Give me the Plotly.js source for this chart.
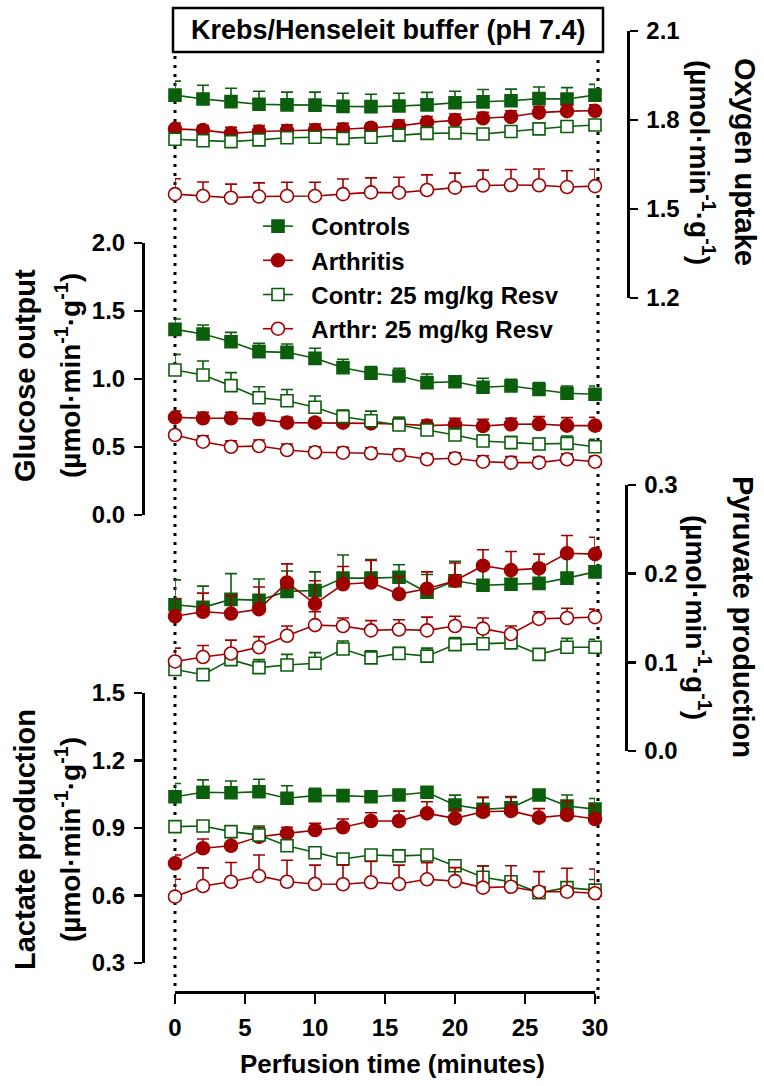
<!DOCTYPE html>
<html><head><meta charset="utf-8">
<script src="https://cdn.plot.ly/plotly-3.0.1.min.js"></script>
<style>html,body{margin:0;padding:0;background:#fff}#chart{width:764px;height:1086px}</style>
</head><body><div id="chart"></div>
<script>
// ---- data ----
const time = [0,2,4,6,8,10,12,14,16,18,20,22,24,26,28,30];
const seriesNames = ['Controls','Arthritis','Contr: 25 mg/kg Resv','Arthr: 25 mg/kg Resv'];

// Oxygen uptake (µmol·min-1·g-1)
const o2Ctrl     = [1.884,1.871,1.862,1.853,1.851,1.850,1.846,1.845,1.847,1.851,1.858,1.861,1.865,1.872,1.871,1.884];
const o2CtrlErr  = [0.047,0.046,0.045,0.044,0.043,0.044,0.044,0.042,0.043,0.042,0.039,0.042,0.039,0.039,0.038,0.036];
const o2Arth     = [1.770,1.766,1.755,1.761,1.764,1.766,1.769,1.774,1.780,1.792,1.800,1.806,1.811,1.825,1.830,1.831];
const o2ArthErr  = [0.020,0.015,0.020,0.020,0.020,0.020,0.020,0.015,0.020,0.020,0.020,0.020,0.020,0.020,0.020,0.020];
const o2CtrlR    = [1.735,1.730,1.727,1.733,1.740,1.742,1.738,1.742,1.749,1.755,1.756,1.753,1.761,1.770,1.778,1.783];
const o2CtrlRErr = [0.015,0.015,0.015,0.015,0.015,0.015,0.015,0.015,0.015,0.015,0.015,0.015,0.015,0.015,0.015,0.015];
const o2ArthR    = [1.550,1.544,1.538,1.542,1.544,1.544,1.550,1.556,1.555,1.564,1.572,1.579,1.581,1.580,1.574,1.577];
const o2ArthRErr = [0.052,0.047,0.046,0.046,0.046,0.046,0.051,0.049,0.052,0.051,0.049,0.052,0.052,0.055,0.055,0.057];

// Glucose output
const gluCtrl     = [1.365,1.331,1.274,1.201,1.196,1.152,1.083,1.042,1.022,0.973,0.980,0.939,0.949,0.924,0.895,0.888];
const gluCtrlErr  = [0.076,0.066,0.069,0.061,0.061,0.074,0.061,0.049,0.056,0.064,0.037,0.066,0.049,0.049,0.054,0.061];
const gluArth     = [0.718,0.711,0.711,0.704,0.679,0.679,0.679,0.674,0.669,0.657,0.664,0.654,0.667,0.669,0.657,0.657];
const gluArthErr  = [0.047,0.044,0.044,0.044,0.039,0.032,0.044,0.044,0.047,0.042,0.047,0.049,0.044,0.054,0.059,0.061];
const gluCtrlR    = [1.066,1.029,0.951,0.862,0.840,0.792,0.723,0.693,0.662,0.625,0.588,0.544,0.532,0.522,0.527,0.502];
const gluCtrlRErr = [0.115,0.103,0.096,0.081,0.083,0.083,0.049,0.071,0.056,0.044,0.049,0.044,0.044,0.042,0.054,0.054];
const gluArthR    = [0.588,0.539,0.502,0.507,0.478,0.461,0.458,0.454,0.441,0.410,0.417,0.392,0.385,0.385,0.410,0.392];
const gluArthRErr = [0.030,0.044,0.044,0.044,0.044,0.040,0.040,0.040,0.044,0.040,0.040,0.044,0.044,0.040,0.040,0.040];

// Pyruvate production
const pyrCtrl     = [0.165,0.162,0.171,0.170,0.180,0.181,0.195,0.195,0.196,0.179,0.192,0.187,0.188,0.189,0.195,0.202];
const pyrCtrlErr  = [0.028,0.024,0.029,0.024,0.023,0.021,0.026,0.021,0.014,0.020,0.022,0.022,0.018,0.022,0.028,0.020];
const pyrArth     = [0.152,0.157,0.155,0.160,0.190,0.166,0.188,0.190,0.177,0.183,0.192,0.209,0.204,0.206,0.223,0.222];
const pyrArthErr  = [0.020,0.021,0.020,0.025,0.021,0.026,0.020,0.025,0.020,0.019,0.020,0.018,0.021,0.016,0.020,0.019];
const pyrCtrlR    = [0.092,0.086,0.103,0.094,0.097,0.099,0.115,0.105,0.110,0.107,0.120,0.121,0.122,0.109,0.117,0.117];
const pyrCtrlRErr = [0.007,0.007,0.007,0.009,0.012,0.012,0.009,0.008,0.007,0.009,0.008,0.012,0.014,0.006,0.010,0.009];
const pyrArthR    = [0.101,0.106,0.110,0.117,0.130,0.142,0.141,0.136,0.137,0.136,0.141,0.138,0.132,0.149,0.150,0.151];
const pyrArthRErr = [0.015,0.013,0.015,0.012,0.011,0.015,0.009,0.011,0.011,0.015,0.011,0.012,0.009,0.008,0.011,0.009];

// Lactate production
const lacCtrl     = [1.039,1.059,1.057,1.061,1.032,1.044,1.044,1.039,1.047,1.059,1.002,0.983,0.990,1.047,0.998,0.984];
const lacCtrlErr  = [0.059,0.055,0.052,0.056,0.056,0.033,0.015,0.015,0.015,0.015,0.044,0.053,0.046,0.020,0.049,0.047];
const lacArth     = [0.743,0.810,0.821,0.861,0.876,0.891,0.903,0.931,0.931,0.965,0.943,0.972,0.976,0.946,0.958,0.940];
const lacArthErr  = [0.037,0.041,0.037,0.041,0.027,0.030,0.037,0.037,0.044,0.052,0.040,0.064,0.064,0.040,0.060,0.060];
const lacCtrlR    = [0.906,0.909,0.884,0.869,0.821,0.790,0.762,0.780,0.776,0.780,0.732,0.681,0.661,0.612,0.635,0.624];
const lacCtrlRErr = [0.015,0.015,0.015,0.040,0.015,0.015,0.015,0.015,0.015,0.015,0.015,0.050,0.015,0.015,0.015,0.047];
const lacArthR    = [0.595,0.642,0.661,0.687,0.661,0.651,0.650,0.659,0.651,0.672,0.664,0.635,0.639,0.617,0.617,0.610];
const lacArthRErr = [0.077,0.081,0.086,0.093,0.096,0.084,0.086,0.092,0.084,0.074,0.060,0.096,0.093,0.089,0.104,0.108];

const xTicks = [0,5,10,15,20,25,30];
const o2Ticks  = [1.2,1.5,1.8,2.1];
const gluTicks = [0,0.5,1,1.5,2];
const pyrTicks = [0,0.1,0.2,0.3];
const lacTicks = [0.3,0.6,0.9,1.2,1.5];

// ---- styling ----
const GREEN = '#0b5e0b', RED = '#a00000';
const styles = [
  {color: GREEN, symbol: 'square', fill: GREEN, size: 12},
  {color: RED,   symbol: 'circle', fill: RED,   size: 13},
  {color: GREEN, symbol: 'square', fill: '#ffffff', size: 12},
  {color: RED,   symbol: 'circle', fill: '#ffffff', size: 13}
];
const FONT = {family: 'Liberation Sans, Arial, sans-serif', size: 24, color: '#000', weight: 'bold'};
const NB = '\u00a0\u00a0';

function mk(y, err, i, yaxis, showlegend) {
  const s = styles[i];
  return {
    x: time, y: y, type: 'scatter', mode: 'lines+markers', name: NB + seriesNames[i],
    yaxis: yaxis, showlegend: showlegend, legendgroup: 'g' + i, cliponaxis: false,
    line: {color: s.color, width: 1.6},
    marker: {symbol: s.symbol, size: s.size, color: s.fill, line: {color: s.color, width: 1.6}},
    error_y: {type: 'data', symmetric: false, array: err, arrayminus: err.map(() => 0),
              color: s.color, thickness: 1.6, width: 6}
  };
}

const panels = [
  {ya: 'y',  data: [[lacCtrl, lacCtrlErr],[lacArth, lacArthErr],[lacCtrlR, lacCtrlRErr],[lacArthR, lacArthRErr]]},
  {ya: 'y2', data: [[pyrCtrl, pyrCtrlErr],[pyrArth, pyrArthErr],[pyrCtrlR, pyrCtrlRErr],[pyrArthR, pyrArthRErr]]},
  {ya: 'y3', data: [[gluCtrl, gluCtrlErr],[gluArth, gluArthErr],[gluCtrlR, gluCtrlRErr],[gluArthR, gluArthRErr]]},
  {ya: 'y4', data: [[o2Ctrl, o2CtrlErr],[o2Arth, o2ArthErr],[o2CtrlR, o2CtrlRErr],[o2ArthR, o2ArthRErr]]}
];
const traces = [];
panels.forEach((p, pi) => p.data.forEach((d, i) => traces.push(mk(d[0], d[1], i, p.ya, pi === 3))));

// geometry: plot area x 140..630, y 20..992
const L = 140, R = 630, T = 20, B = 992;
const px = X => (X - L) / (R - L);
const py = Y => (B - Y) / (B - T);

const axisCommon = {showline: true, linecolor: '#000', linewidth: 2.5, ticks: 'outside', ticklen: 8,
  tickwidth: 2.5, tickcolor: '#000', showgrid: false, zeroline: false, tickfont: FONT, fixedrange: true,
  anchor: 'free', ticklabelstandoff: 4};

const T1 = Object.assign({}, FONT, {size: 29});
const T2 = Object.assign({}, FONT, {size: 28});
const UNIT = '(µmol·min<sup>-1</sup>·g<sup>-1</sup>)';
function ttl(text, X, Y, angle, font) {
  return {text: text, xref: 'paper', yref: 'paper', x: px(X), y: py(Y), textangle: angle,
          xanchor: 'center', yanchor: 'middle', showarrow: false, font: font};
}

const layout = {
  width: 764, height: 1086, paper_bgcolor: '#fff', plot_bgcolor: 'rgba(0,0,0,0)',
  margin: {l: L, r: 764 - R, t: T, b: 1086 - B},
  font: FONT, showlegend: true,
  xaxis: Object.assign({}, axisCommon, {domain: [px(175), px(595)], range: [0, 30], tickvals: xTicks,
    position: 0, ticklen: 10}),
  yaxis: Object.assign({}, axisCommon, {domain: [py(963), py(693)], range: [0.3, 1.5], tickvals: lacTicks,
    tickformat: '.1f', side: 'left', position: px(143)}),
  yaxis2: Object.assign({}, axisCommon, {domain: [py(751), py(485)], range: [0, 0.3], tickvals: pyrTicks,
    tickformat: '.1f', side: 'right', position: px(626)}),
  yaxis3: Object.assign({}, axisCommon, {domain: [py(515), py(243)], range: [0, 2], tickvals: gluTicks,
    tickformat: '.1f', side: 'left', position: px(143)}),
  yaxis4: Object.assign({}, axisCommon, {domain: [py(298), py(31)], range: [1.2, 2.1], tickvals: o2Ticks,
    tickformat: '.1f', side: 'right', position: px(628)}),
  legend: {x: px(258), y: py(204), xanchor: 'left', yanchor: 'top', bgcolor: 'rgba(0,0,0,0)',
    font: FONT, tracegroupgap: 0, itemwidth: 30},
  shapes: [
    {type: 'rect', xref: 'paper', yref: 'paper', x0: px(173), x1: px(603), y0: py(52), y1: py(8),
     line: {color: '#000', width: 2.5}, fillcolor: '#fff'},
    {type: 'line', xref: 'paper', yref: 'paper', x0: px(175), x1: px(175), y0: py(986), y1: py(55), layer: 'below',
     line: {color: '#000', width: 3, dash: '3px,6px'}},
    {type: 'line', xref: 'paper', yref: 'paper', x0: px(598), x1: px(598), y0: py(999), y1: py(55), layer: 'below',
     line: {color: '#000', width: 3, dash: '3px,6px'}}
  ],
  annotations: [
    {text: 'Krebs/Henseleit buffer (pH 7.4)', xref: 'paper', yref: 'paper', x: px(388), y: py(30),
     xanchor: 'center', yanchor: 'middle', showarrow: false, font: Object.assign({}, FONT, {size: 27})},
    {text: 'Perfusion time (minutes)', xref: 'paper', yref: 'paper', x: px(392), y: py(1064),
     xanchor: 'center', yanchor: 'middle', showarrow: false, font: Object.assign({}, FONT, {size: 26})},
    ttl('Glucose output', 25, 376, -90, T1),
    ttl(UNIT, 68, 376, -90, T2),
    ttl('Lactate production', 25, 840, -90, T1),
    ttl(UNIT, 68, 840, -90, T2),
    ttl('Oxygen uptake', 745, 162, 90, T1),
    ttl(UNIT, 702, 162, 90, T2),
    ttl('Pyruvate production', 743, 617, 90, T1),
    ttl(UNIT, 698, 617, 90, T2)
  ]
};

Plotly.newPlot('chart', traces, layout, {displayModeBar: false, staticPlot: true});
</script>
</body></html>
